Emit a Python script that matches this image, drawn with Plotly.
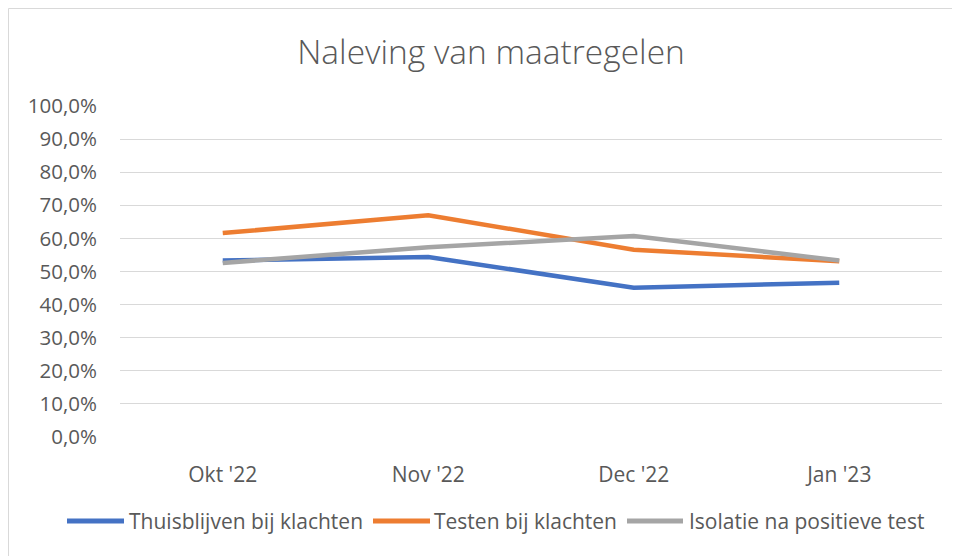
import plotly.graph_objects as go

categories = ["Okt '22", "Nov '22", "Dec '22", "Jan '23"]
thuisblijven = [53.3, 54.4, 45.1, 46.6]
testen = [61.6, 67.0, 56.6, 53.1]
isolatie = [52.6, 57.3, 60.7, 53.3]

series_names = ["Thuisblijven bij klachten", "Testen bij klachten", "Isolatie na positieve test"]
series_values = [thuisblijven, testen, isolatie]
series_colors = ["#4472C4", "#ED7D31", "#A5A5A5"]

FONT = "Open Sans"
TXT = "#595959"

fig = go.Figure()
for name, vals, col in zip(series_names, series_values, series_colors):
    fig.add_trace(go.Scatter(
        x=categories, y=vals, name=name, mode="lines",
        line=dict(color=col, width=4.5), showlegend=False,
    ))

# page body has an 8px margin; figure coordinates are screen minus 8
W, H = 960, 556
ml, mr, mt, mb = 112, 26, 98, 127
pw, ph = W - ml - mr, H - mt - mb


def px(xfig):
    return (xfig - ml) / pw


def py(yfig):
    return (H - mb - yfig) / ph


shapes = [dict(type="rect", xref="paper", yref="paper",
               x0=px(0.5), x1=px(1000), y0=py(620), y1=py(0.5),
               line=dict(color="#D9D9D9", width=1), fillcolor="rgba(0,0,0,0)",
               layer="below")]
annotations = []

# legend: line sample positions (figure px) and label start
leg_y = 513
leg_items = [(59, 116, 119), (365, 422, 424), (619, 675, 679)]
for (x0, x1, xt), name, col in zip(leg_items, series_names, series_colors):
    shapes.append(dict(type="line", xref="paper", yref="paper",
                       x0=px(x0), x1=px(x1), y0=py(leg_y), y1=py(leg_y),
                       line=dict(color=col, width=5)))
    annotations.append(dict(text=name, xref="paper", yref="paper",
                            x=px(xt), y=py(leg_y), xanchor="left", yanchor="middle",
                            showarrow=False, font=dict(size=21, color=TXT, family=FONT)))

fig.update_layout(
    width=W, height=H,
    margin=dict(l=ml, r=mr, t=mt, b=mb, pad=0),
    paper_bgcolor="white", plot_bgcolor="white",
    separators=",.",
    font=dict(family=FONT, color=TXT, size=20),
    title=dict(text="Naleving van maatregelen", x=483 / W, xanchor="center",
               y=1 - 44 / H, yanchor="middle",
               font=dict(family=FONT, size=33.5, color=TXT, weight=300)),
    xaxis=dict(type="category", range=[-0.5, 3.5], showgrid=False,
               showline=False, ticks="outside", ticklen=19,
               tickcolor="rgba(0,0,0,0)", tickfont=dict(size=21, color=TXT)),
    yaxis=dict(range=[0, 100], dtick=10, tickformat=".1f", ticksuffix="%",
               gridcolor="#D9D9D9", gridwidth=1, zeroline=False, showline=False,
               ticks="outside", ticklen=18, tickcolor="rgba(0,0,0,0)",
               tickfont=dict(size=20.5, color=TXT)),
    showlegend=False,
    shapes=shapes,
    annotations=annotations,
)

fig.write_html("out.html")
